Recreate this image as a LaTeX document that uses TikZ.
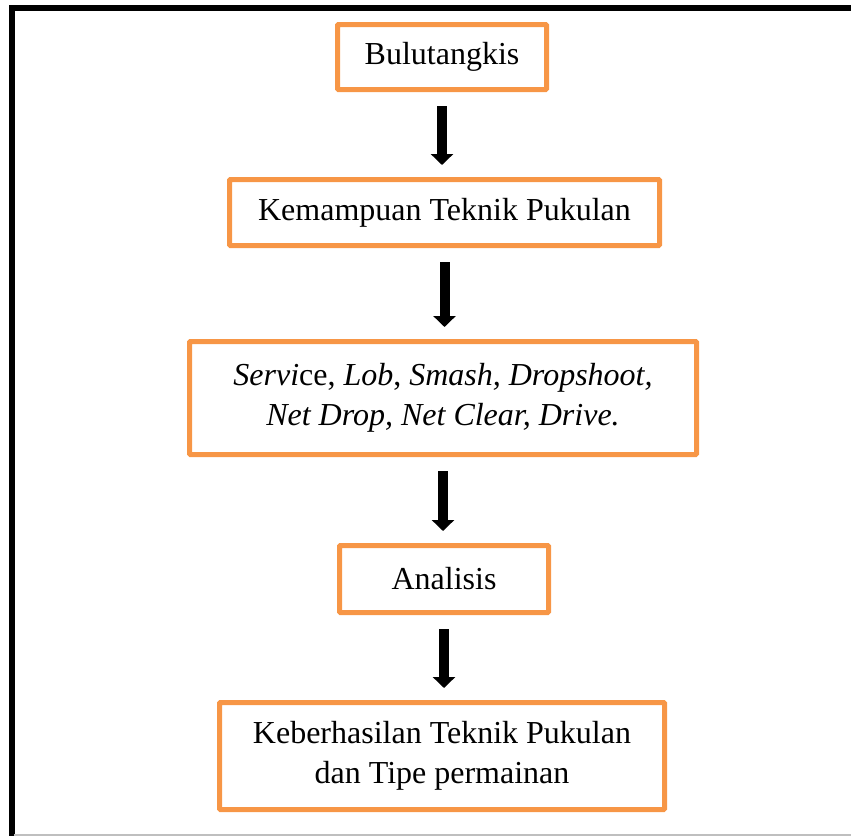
\documentclass[tikz,border=0pt]{standalone}
\usepackage{fontspec}
\setmainfont{Liberation Serif}
\usetikzlibrary{arrows.meta}
\definecolor{boxorange}{HTML}{F79646}
\begin{document}
\begin{tikzpicture}[x=1pt, y=-1pt, font=\fontsize{32}{40}\selectfont]
\tikzstyle{bx}=[draw=boxorange, line width=5pt, rounded corners=1pt, inner sep=0pt, align=center]
\tikzstyle{ar}=[line width=10pt, -{Triangle[width=22pt, length=11pt]}, shorten <=14pt, shorten >=12pt]
\useasboundingbox (0,0) rectangle (851,836);

% frame
\draw[black, line width=6pt] (851,8) -- (11.5,8) -- (11.5,836);
\draw[black!25, line width=2pt] (14,835) -- (851,835);

\node[bx, minimum width=209pt, minimum height=65pt] (B1) at (442,57) {Bulutangkis};
\node[bx, minimum width=430pt, minimum height=66pt] (B2) at (444.5,212.5) {Kemampuan Teknik Pukulan};
\node[bx, minimum width=507pt, minimum height=113pt] (B3) at (443,398)
  {\textit{Servi}ce, \textit{Lob}, \textit{Smash, Dropshoot,}\\ \textit{Net Drop, Net Clear, Drive.}};
\node[bx, minimum width=209pt, minimum height=67pt] (B4) at (444,579) {Analisis};
\node[bx, minimum width=445pt, minimum height=107pt] (B5) at (442,756)
  {Keberhasilan Teknik Pukulan\\ dan Tipe permainan};

\draw[ar] (B1.south) -- (B1.south |- B2.north);
\draw[ar] (B2.south) -- (B2.south |- B3.north);
\draw[ar] (B3.south) -- (B3.south |- B4.north);
\draw[ar] (B4.south) -- (B4.south |- B5.north);
\end{tikzpicture}
\end{document}
